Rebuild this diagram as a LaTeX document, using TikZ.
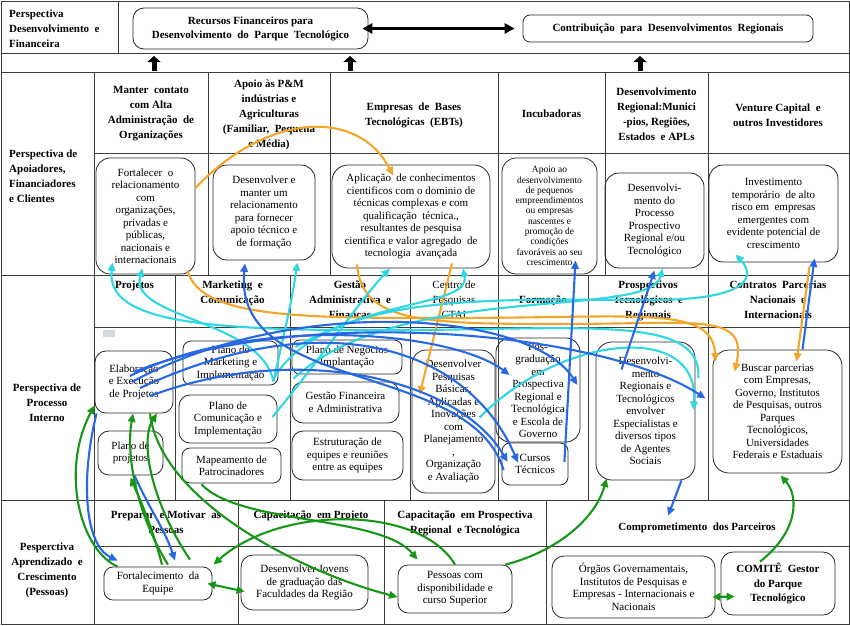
\documentclass[tikz,border=0pt]{standalone}
\usepackage{fontspec}
\setmainfont{Liberation Serif}
\usetikzlibrary{arrows.meta,calc}

\definecolor{orng}{RGB}{243,165,42}
\definecolor{aqua}{RGB}{48,214,224}
\definecolor{blu}{RGB}{40,104,228}
\definecolor{grn}{RGB}{24,150,24}
\definecolor{gridc}{RGB}{60,60,60}

\begin{document}
\begin{tikzpicture}[x=1pt, y=-1pt,
    gridl/.style={gridc, line width=0.9pt},
    box/.style={draw=black!85, line width=0.8pt, rounded corners=11pt, align=center, inner sep=1pt,
      font=\fontsize{11}{12.5}\selectfont},
    head/.style={align=center, inner sep=1pt, font=\fontsize{11}{15}\selectfont\bfseries},
    link/.style={line width=2.1pt, -{Triangle[length=8.5pt,width=7.5pt]}},
    twoway/.style={line width=2.1pt, {Triangle[length=8pt,width=7.5pt]}-{Triangle[length=8pt,width=7.5pt]}},
    blockup/.style={line width=5pt, -{Triangle[length=6pt,width=13pt]}}]
  \useasboundingbox (0,0) rectangle (850,625);

  % table
  \draw[gridl] (1,1) rectangle (849,624);
  \draw[gridl] (1,53) -- (849,53) (118,1) -- (118,53) (1,72) -- (849,72);
  \draw[gridl] (94,72) -- (94,624) (94,153) -- (849,153) (1,275) -- (849,275);
  \draw[gridl] (94,327) -- (849,327) (1,500) -- (849,500) (94,546) -- (849,546);
  \foreach \x in {208,330,498,605,708} \draw[gridl] (\x,72) -- (\x,275);
  \foreach \x in {175,290,410,498,588,708} \draw[gridl] (\x,275) -- (\x,500);
  \foreach \x in {238,384,546} \draw[gridl] (\x,500) -- (\x,624);
  \fill[cyan!15!gray!35] (103,330) rectangle (115,337);

  % perspectives
  \node[head, align=left, anchor=west] (pfin) at (8,28.5) {Perspectiva\\Desenvolvimento~ e\\Financeira};
  \node[head, align=left, anchor=west] (papo) at (8,176) {Perspectiva de\\Apoiadores,\\Financiadores\\e Clientes};
  \node[head] (pproc) at (47,403) {Perspectiva de\\Processo\\Interno};
  \node[head] (papr) at (47,570) {Pesperctiva\\Aprendizado~ e\\Crescimento\\(Pessoas)};

  % column titles
  \node[head] (h31) at (151,114) {Manter~ contato\\com Alta\\Administração~ de\\Organizações};
  \node[head] (h32) at (269,114.5) {Apoio às P\&M\\indústrias e\\Agriculturas\\(Familiar,~ Pequena\\e Média)};
  \node[head] (h33) at (414,115) {Empresas~ de~ Bases\\Tecnológicas~ (EBTs)};
  \node[head] (h34) at (551.5,114) {Incubadoras};
  \node[head] (h35) at (656.5,114) {Desenvolvimento\\Regional:Munici\\-pios, Regiões,\\Estados~ e APLs};
  \node[head] (h36) at (778,115) {Venture Capital~ e\\outros Investidores};

  \node[head, anchor=north] (h41) at (134.5,280) {Projetos};
  \node[head, anchor=north] (h42) at (232.5,280) {Marketing~ e\\Comunicação};
  \node[head, anchor=north] (h43) at (350,280) {Gestão\\Administrativa~ e\\Finanças};
  \node[head, anchor=north, font=\fontsize{11}{15}\selectfont] (h44) at (454,280) {Centro de\\Pesquisas\\CTAI};
  \node[head] (h45) at (543,301) {Formação};
  \node[head, anchor=north] (h46) at (648,280) {Prospectivos\\Tecnológicos~ e\\Regionais};
  \node[head, anchor=north] (h47) at (778,280) {Contratos~ Parcerias\\Nacionais~ e\\Internacionais};

  \node[head, anchor=north] (h51) at (166,510) {Preparar~ e Motivar~ as\\Pessoas};
  \node[head, anchor=north] (h52) at (311,510) {Capacitação~ em Projeto};
  \node[head, anchor=north] (h53) at (465,510) {Capacitação~ em Prospectiva\\Regional~ e Tecnológica};
  \node[head] (comp) at (697,528) {Comprometimento~ dos Parceiros};

  % boxes
  \node[box, font=\fontsize{11}{14}\selectfont\bfseries, minimum width=235, minimum height=41] (recur) at (250.5,28.5) {Recursos Financeiros para\\Desenvolvimento~ do~ Parque~ Tecnológico};
  \node[box, font=\fontsize{11}{14}\selectfont\bfseries, minimum width=290, minimum height=27, rounded corners=7pt] (contr) at (668,28.5) {Contribuição~ para~ Desenvolvimentos~ Regionais};

  \node[box, minimum width=99, minimum height=116, rounded corners=14pt] (fort) at (145.5,216) {Fortalecer~ o\\relacionamento\\com\\organizações,\\privadas e\\públicas,\\nacionais e\\internacionais};
  \node[box, minimum width=102, minimum height=95, rounded corners=14pt] (apoio) at (264,212.5) {Desenvolver e\\manter um\\relacionamento\\para fornecer\\apoio técnico e\\de formação};
  \node[box, minimum width=158, minimum height=103, rounded corners=16pt] (ebt) at (411,216.5) {Aplicação~ de conhecimentos\\cientificos com o dominio de\\técnicas complexas e com\\qualificação~ técnica.,\\resultantes de pesquisa\\cientifica e valor agregado~ de\\tecnologia~ avançada};
  \node[box, minimum width=95, minimum height=116, rounded corners=14pt, font=\fontsize{9.5}{10.3}\selectfont] (incub) at (549.5,216) {Apoio ao\\desenvolvimento\\de pequenos\\empreendimentos\\ou empresas\\nascentes e\\promoção de\\condições\\favoráveis ao seu\\crescimento};
  \node[box, minimum width=99, minimum height=95, rounded corners=14pt] (regio) at (654.5,220.5) {Desenvolvi-\\mento do\\Processo\\Prospectivo\\Regional e/ou\\Tecnológico};
  \node[box, minimum width=129, minimum height=97, rounded corners=14pt] (vc) at (773.5,213.5) {Investimento\\temporário~ de alto\\risco em~ empresas\\emergentes com\\evidente potencial de\\crescimento};

  \node[box, minimum width=78, minimum height=62] (elab) at (134,382) {Elaboração\\e Execução\\de Projetos};
  \node[box, minimum width=65, minimum height=44] (pproj) at (130.5,453) {Plano de\\projetos};
  \node[box, minimum width=95, minimum height=44, rounded corners=8pt] (pmkt) at (230.5,363) {Plano de\\Marketing e\\Implementação};
  \node[box, minimum width=98, minimum height=48] (pcom) at (228,419) {Plano de\\Comunicação e\\Implementação};
  \node[box, minimum width=99, minimum height=35, rounded corners=8pt] (pmap) at (231.5,465.5) {Mapeamento de\\Patrocinadores};
  \node[box, minimum width=110, minimum height=34, rounded corners=8pt] (pneg) at (347,357) {Plano de Negócios\\Implantação};
  \node[box, minimum width=107, minimum height=41] (gfin) at (345.5,402.5) {Gestão Financeira\\e Administrativa};
  \node[box, minimum width=111, minimum height=49] (estr) at (347.5,455.5) {Estruturação de\\equipes e reuniões\\entre as equipes};
  \node[box, minimum width=83, minimum height=143, rounded corners=14pt] (pesq) at (453.5,421.5) {Desenvolver\\Pesquisas\\Básicas,\\Aplicadas e\\Inovações\\com\\Planejamento\\,\\Organização\\e Avaliação};
  \node[box, minimum width=84, minimum height=104, rounded corners=14pt] (posg) at (538,390) {Pós-\\graduação\\em\\Prospectiva\\Regional e\\Tecnológica\\e Escola de\\Governo};
  \node[box, minimum width=66, minimum height=42, rounded corners=8pt] (curso) at (535,464) {Cursos\\Técnicos};
  \node[box, minimum width=99, minimum height=138, rounded corners=16pt] (agent) at (645.5,411) {Desenvolvi-\\mento\\Regionais e\\Tecnológicos\\envolver\\Especialistas e\\diversos tipos\\de Agentes\\Sociais};
  \node[box, minimum width=129, minimum height=123, rounded corners=16pt] (busca) at (777.5,411.5) {Buscar parcerias\\com Empresas,\\Governo, Institutos\\de Pesquisas, outros\\Parques\\Tecnológicos,\\Universidades\\Federais e Estaduais};

  \node[box, minimum width=108, minimum height=33, rounded corners=9pt] (equip) at (158,583.5) {Fortalecimento~ da\\Equipe};
  \node[box, minimum width=127, minimum height=55, rounded corners=12pt] (jovem) at (304.5,582.5) {Desenvolver Jovens\\de graduação das\\Faculdades da Região};
  \node[box, minimum width=114, minimum height=48, rounded corners=10pt] (pesso) at (455,589) {Pessoas com\\disponibilidade e\\curso Superior};
  \node[box, minimum width=163, minimum height=62, rounded corners=12pt] (orgao) at (633.5,587) {Órgãos Governamentais,\\Institutos de Pesquisas e\\Empresas - Internacionais e\\Nacionais};
  \node[box, minimum width=114, minimum height=63, rounded corners=12pt, font=\fontsize{11}{14.5}\selectfont\bfseries] (comit) at (778,583.5) {COMITÊ~ Gestor\\do Parque\\Tecnológico};

  % black arrows on top
  \draw[line width=2.8pt, {Triangle[length=10pt,width=10pt]}-{Triangle[length=10pt,width=10pt]}]
    ($(recur.east)+(-6,0)$) -- ($(contr.west)+(-8,0)$);
  \coordinate (ua1) at (154,71); \coordinate (ub1) at (154,56);
  \coordinate (ua2) at (350,71); \coordinate (ub2) at (350,56);
  \coordinate (ua3) at (640,71); \coordinate (ub3) at (640,56);
  \foreach \i in {1,2,3} \draw[blockup] (ua\i) -- (ub\i);

  % orange links
  \draw[link, orng] ($(fort.east)+(0,-28)$) .. controls (270,110) and (360,110) .. ($(ebt.north)+(-18,11)$);
  \draw[link, orng] ($(fort.south)+(42,-4)$) .. controls (200,318) and (300,318) .. (450,318)
    .. controls (640,318) and (712,305) .. ($(busca.north west)+(3,12)$);
  \draw[link, orng] ($(ebt.south)+(-54,-4)$) .. controls (362,322) and (420,324) .. (560,324)
    .. controls (700,324) and (748,312) .. ($(busca.north west)+(22,22)$);
  \draw[link, orng] ($(ebt.south)+(41,-5)$) -- ($(pesq.north west)+(8,45)$);
  \draw[link, orng] ($(vc.south)+(36,4)$) -- ($(busca.north)+(19,12)$);

  % cyan links
  \draw[link, aqua] ($(agent.east)+(3,-33)$) .. controls (702,318) and (600,328) .. (420,330)
    .. controls (200,332) and (106,322) .. ($(fort.south)+(-33,-12)$);
  \draw[link, aqua] ($(pmkt.south east)+(-5,-4)$) .. controls (262,320) and (128,318) .. ($(fort.south)+(-3,-6)$);
  \draw[link, aqua] ($(pmkt.south east)+(-5,-4)$) .. controls (285,330) and (292,300) .. ($(apoio.south east)+(-18,2)$);
  \draw[link, aqua] ($(pcom.east)+(-5,-2)$) .. controls (320,360) and (360,300) .. ($(ebt.south)+(-21,0)$);
  \draw[link, aqua] ($(gfin.west)+(2,-24)$) .. controls (400,280) and (650,320) .. ($(regio.south)+(8,0)$);
  \draw[link, aqua] ($(pmkt.east)+(-4,14)$) .. controls (330,290) and (500,300) .. (650,300)
    .. controls (760,300) and (752,272) .. ($(vc.south)+(-38,-8)$);
  \draw[link, aqua] ($(pesq.west)+(68,-4)$) .. controls (560,335) and (700,320) .. ($(agent.east)+(-2,-1)$);
  \draw[link, aqua] ($(pneg.west)+(4,-10)$) .. controls (380,298) and (470,305) .. ($(ebt.south)+(52,0)$);

  % blue links
  \draw[link, blu] ($(elab.center)+(-4,-6)$) .. controls (250,315) and (450,330) .. ($(posg.west)+(14,-15)$);
  \draw[link, blu] ($(elab.center)+(-2,0)$) .. controls (290,295) and (530,310) .. ($(posg.east)+(-3,-5)$);
  \draw[link, blu] ($(elab.center)+(0,-10)$) .. controls (300,305) and (600,330) .. ($(busca.west)+(-7,-13)$);
  \draw[link, blu] ($(elab.center)+(6,6)$) .. controls (330,300) and (470,350) .. ($(curso.north)+(-17,20)$);
  \draw[link, blu] ($(elab.center)+(16,14)$) .. controls (300,340) and (460,380) .. ($(curso.west)+(6,-2)$);
  \draw[link, blu] ($(curso.west)+(2,6)$) .. controls (470,360) and (232,395) .. ($(apoio.south)+(-19,3)$);
  \draw[link, blu] ($(curso.east)+(-4,-2)$) -- ($(incub.south)+(26,-14)$);
  \draw[link, blu] ($(agent.north)+(-24,28)$) -- ($(regio.south)+(0,2)$);
  \draw[link, blu] ($(busca.north)+(25,0)$) -- ($(vc.south)+(41,-4)$);
  \draw[link, blu] ($(elab.south west)+(2,0)$) .. controls (80,480) and (85,545) .. ($(equip.north west)+(14,-6)$);
  \draw[link, blu] ($(pproj.south)+(4,0)$) .. controls (150,510) and (165,530) .. ($(equip.north)+(17,-6)$);
  \draw[link, blu] ($(agent.south)+(36,0)$) -- ($(comp.north)+(-29,-6)$);

  % green links
  \draw[link, grn] ($(equip.north west)+(14,0)$) .. controls (80,550) and (60,470) .. ($(elab.south west)+(0,-8)$);
  \draw[link, grn] ($(equip.north)+(10,-2)$) .. controls (140,520) and (125,460) .. ($(elab.south)+(-1,0)$);
  \draw[link, grn] ($(equip.north)+(32,-7)$) .. controls (150,500) and (140,440) .. ($(elab.south)+(23,0)$);
  \draw[link, grn] ($(equip.north)+(4,-2)$) .. controls (150,520) and (140,500) .. ($(pproj.south)+(0,2)$);
  \draw[link, grn] ($(elab.south)+(16,0)$) .. controls (160,500) and (300,572) .. ($(pesso.west)+(0,8)$);
  \draw[link, grn] ($(pmap.south)+(-30,1)$) .. controls (240,525) and (380,515) .. ($(pesso.north west)+(20,-5)$);
  \draw[link, grn] (pesso.north) .. controls (420,505) and (280,505) .. ($(equip.north east)+(1,-2)$);
  \draw[twoway, grn] ($(equip.east)+(-5,0)$) -- ($(jovem.west)+(4,9)$);
  \draw[link, grn] ($(pesso.north east)+(-7,0)$) .. controls (555,552) and (595,520) .. ($(agent.south west)+(11,-2)$);
  \draw[link, grn] ($(comit.north)+(-18,10)$) .. controls (800,530) and (798,495) .. ($(busca.south)+(3,2)$);
  \draw[twoway, grn] ($(orgao.east)+(-3,10)$) -- ($(comit.west)+(14,13)$);
\end{tikzpicture}
\end{document}
